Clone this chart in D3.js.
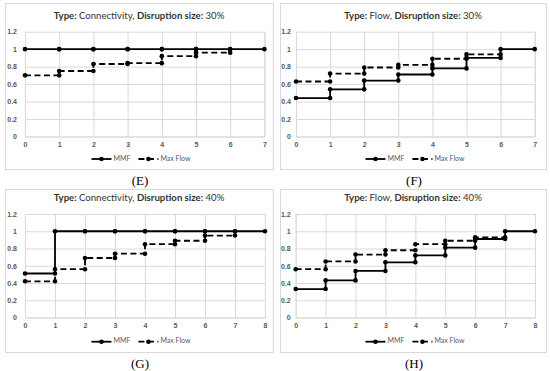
<!DOCTYPE html>
<html><head><meta charset="utf-8">
<script src="https://cdn.jsdelivr.net/npm/d3@7"></script>
<style>
html,body{margin:0;padding:0;background:#fff;}
svg{display:block;font-family:Lato,"Open Sans",sans-serif;}
</style></head>
<body>
<svg id="c" width="550" height="371"></svg>
<script>
// ---- data ----
const panelIds = ["E", "F", "G", "H"];
const typeLabels = ["Connectivity", "Flow", "Connectivity", "Flow"];
const sizeLabels = ["30%", "30%", "40%", "40%"];
const xMaxs = [7, 7, 8, 8];
const yTicks = [0, 0.2, 0.4, 0.6, 0.8, 1, 1.2];
const seriesNames = ["MMF", "Max Flow"];
// step values: value i holds from x=i to x=i+1
const mmfE = [1, 1, 1, 1, 1, 1, 1];
const maxE = [0.70, 0.75, 0.83, 0.84, 0.92, 0.96];
const mmfF = [0.44, 0.54, 0.64, 0.71, 0.78, 0.90, 1.0];
const maxF = [0.63, 0.72, 0.79, 0.82, 0.89, 0.94];
const mmfG = [0.51, 1, 1, 1, 1, 1, 1, 1];
const maxG = [0.42, 0.56, 0.69, 0.74, 0.85, 0.89, 0.95];
const mmfH = [0.33, 0.43, 0.54, 0.64, 0.72, 0.81, 0.91, 1.0];
const maxH = [0.56, 0.65, 0.73, 0.78, 0.85, 0.89, 0.93];
const mmfAll = [mmfE, mmfF, mmfG, mmfH];
const maxAll = [maxE, maxF, maxG, maxH];

// ---- layout ----
const layout = [
  {frame:[5,3,273,169], px:[25,264.4], py:[136.5,31.7], pad:8, titleY:17.3, legY:159, capY:185},
  {frame:[280,3,546,169], px:[296,534.7], py:[136.5,31.7], pad:5, titleY:17.3, legY:159, capY:185},
  {frame:[5,189,273,352], px:[25,265], py:[317.5,214], pad:8, titleY:199, legY:341.7, capY:367.5},
  {frame:[280,189,546,352], px:[295.7,535], py:[317.5,214], pad:5, titleY:199, legY:341.7, capY:367.5}
];

const svg = d3.select("#c");
const grid = "#d9d9d9";
const txt = "#595959";

function stepPoints(vals){
  const pts = [];
  vals.forEach((v,i)=>{ pts.push([i,v]); pts.push([i+1,v]); });
  return pts;
}

panelIds.forEach((id, k) => {
  const L = layout[k];
  const g = svg.append("g");
  const [fx0, fy0, fx1, fy1] = L.frame;
  g.append("rect").attr("x", fx0+0.5).attr("y", fy0+0.5)
    .attr("width", fx1-fx0).attr("height", fy1-fy0)
    .attr("fill", "#fff").attr("stroke", grid).attr("stroke-width", 1);

  const x = d3.scaleLinear().domain([0, xMaxs[k]]).range(L.px);
  const y = d3.scaleLinear().domain([0, 1.2]).range(L.py);

  // gridlines
  const yAxis = d3.axisLeft(y).tickValues(yTicks).tickSize(-(L.px[1]-L.px[0]))
    .tickPadding(L.pad).tickFormat(d => d3.format("")(+d.toFixed(1)));
  const ya = g.append("g").attr("transform", `translate(${L.px[0]},0)`).call(yAxis);
  ya.select(".domain").remove();
  ya.selectAll("line").attr("stroke", grid);
  ya.selectAll("text").attr("fill", txt).attr("font-size", 7).attr("font-weight", 700);

  const xAxis = d3.axisBottom(x).ticks(xMaxs[k]).tickSize(-(L.py[0]-L.py[1]))
    .tickPadding(6).tickFormat(d3.format("d"));
  const xa = g.append("g").attr("transform", `translate(0,${L.py[0]})`).call(xAxis);
  xa.select(".domain").attr("stroke", grid);
  xa.selectAll("line").attr("stroke", grid);
  xa.selectAll("text").attr("fill", txt).attr("font-size", 7).attr("font-weight", 700);

  // series
  const line = d3.line().x(d => x(d[0])).y(d => y(d[1]));
  const series = [
    {vals: maxAll[k], dash: "6,3.5"},
    {vals: mmfAll[k], dash: null}
  ];
  series.forEach(s => {
    const pts = stepPoints(s.vals);
    g.append("path").datum(pts).attr("d", line).attr("fill", "none")
      .attr("stroke", "#000").attr("stroke-width", 1.8)
      .attr("stroke-dasharray", s.dash);
    g.selectAll(null).data(pts).enter().append("circle")
      .attr("cx", d => x(d[0])).attr("cy", d => y(d[1])).attr("r", 2.3).attr("fill", "#000");
  });

  // title
  const cx = (fx0 + fx1) / 2;
  const t = g.append("text").attr("x", cx).attr("y", L.titleY).attr("text-anchor", "middle")
    .attr("dominant-baseline", "middle").attr("font-size", 9.6).attr("fill", "#333");
  t.append("tspan").attr("font-weight", 700).text("Type: ");
  t.append("tspan").text(typeLabels[k] + ", ");
  t.append("tspan").attr("font-weight", 700).text("Disruption size: ");
  t.append("tspan").text(sizeLabels[k]);

  // legend
  const lg = g.append("g");
  let lx = 0;
  seriesNames.forEach((name, i) => {
    const dash = i === 1 ? "6,3.5" : null;
    lg.append("line").attr("x1", lx).attr("x2", lx+20).attr("y1", 0).attr("y2", 0)
      .attr("stroke", "#000").attr("stroke-width", 1.8).attr("stroke-dasharray", dash);
    lg.append("circle").attr("cx", lx+10).attr("cy", 0).attr("r", 2.3).attr("fill", "#000");
    const tt = lg.append("text").attr("x", lx+22).attr("y", 0).attr("dominant-baseline", "middle")
      .attr("font-size", 7).attr("fill", txt).text(name);
    lx += 22 + tt.node().getComputedTextLength() + 8;
  });
  const lw = lx - 8;
  lg.attr("transform", `translate(${cx - lw/2 + 2},${L.legY})`);

  // caption
  svg.append("text").attr("x", cx + 1).attr("y", L.capY).attr("text-anchor", "middle")
    .attr("font-family", "'Liberation Serif','DejaVu Serif',serif").attr("font-size", 13)
    .attr("fill", "#000").text(`(${id})`);
});
</script>
</body></html>
